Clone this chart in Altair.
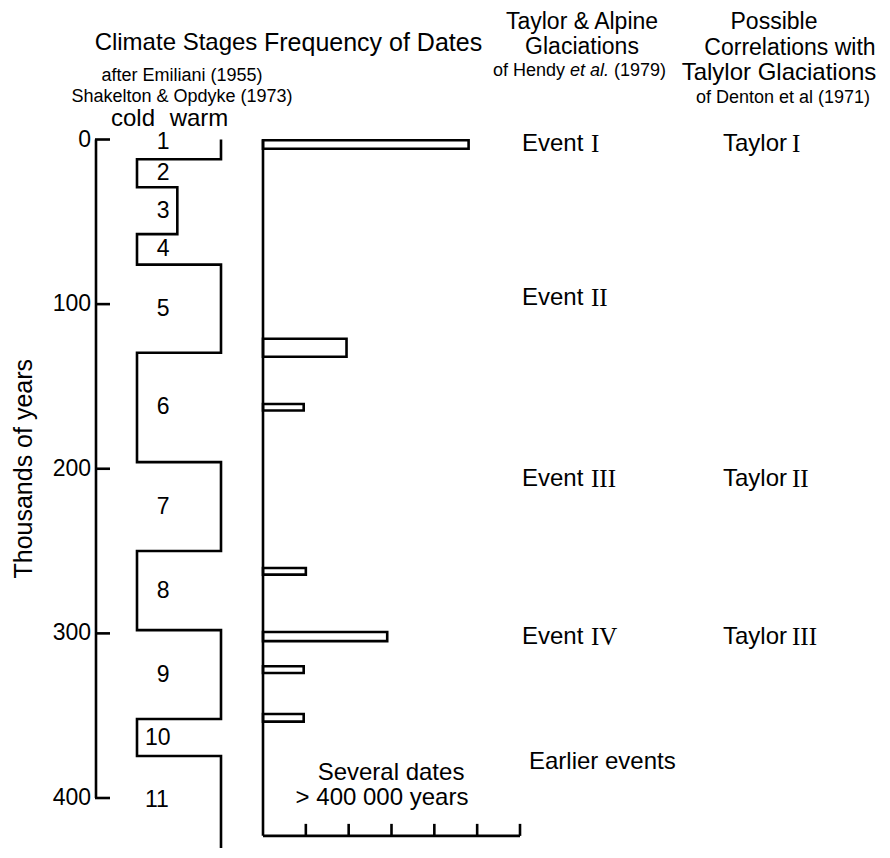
import altair as alt
import pandas as pd

# ---------------- data ----------------
stage_numbers = ["1", "2", "3", "4", "5", "6", "7", "8", "9", "10", "11"]
stage_bounds_kyr = [0, 12, 29, 57.5, 76, 129.5, 196, 250, 298, 352, 374.5, 436]
stage_levels = [1, 0, 0.48, 0, 1, 0, 1, 0, 1, 0, 1]  # 0 = cold, 1 = warm

bar_start_kyr = [0.5, 121, 160.7, 260.3, 299.2, 320, 349]
bar_end_kyr = [5.6, 132, 164.6, 264.3, 304.7, 324.1, 353.6]
bar_counts = [4.8, 1.95, 0.95, 1.0, 2.9, 0.95, 0.95]

age_ticks = [0, 100, 200, 300, 400]
count_ticks = [1, 2, 3, 4, 5, 6]
count_axis_kyr = 423

event_numerals = ["I", "II", "III", "IV"]
event_kyr = [3, 96, 206, 302]
taylor_numerals = ["I", "II", "III"]
taylor_kyr = [3, 206, 302]
earlier_kyr = 378
several_lines = ["Several dates", "> 400 000 years"]
several_kyr = [385, 400]

# ---------------- layout ----------------
SANS = "Liberation Sans"
SERIF = "Liberation Serif"
BIG = 24
SMALL = 18
LW = 2.6


def px(v):
    return v - 8


PX_PER_KYR = (798 - 139.5) / 400
y_scale = alt.Scale(domain=[0, 400], range=[px(139.5), px(798)], zero=False, nice=False)
lvl_scale = alt.Scale(domain=[0, 1], range=[px(137), px(221)], zero=False, nice=False)
cnt_scale = alt.Scale(domain=[0, 6], range=[px(263), px(520)], zero=False, nice=False)


def Y(field):
    return alt.Y(field, type="quantitative", scale=y_scale, axis=None)


layers = []

# left age axis
axis_df = pd.DataFrame({"a": [min(age_ticks)], "b": [max(age_ticks)]})
layers.append(alt.Chart(axis_df).mark_rule(color="black", strokeWidth=LW).encode(
    x=alt.value(px(96)), y=Y("a"), y2="b"))
tick_df = pd.DataFrame({"t": age_ticks})
layers.append(alt.Chart(tick_df).mark_rule(color="black", strokeWidth=LW).encode(
    x=alt.value(px(95)), x2=alt.value(px(110)), y=Y("t")))
layers.append(alt.Chart(tick_df).mark_text(font=SANS, fontSize=23, align="right", baseline="middle").encode(
    x=alt.value(px(91)), y=Y("t"), text="t:N"))
title_df = pd.DataFrame({"t": ["Thousands of years"], "m": [(min(age_ticks) + max(age_ticks)) / 2]})
layers.append(alt.Chart(title_df).mark_text(font=SANS, fontSize=25, angle=270, align="center", baseline="middle").encode(
    x=alt.value(px(24)), y=Y("m"), text="t:N"))

# climate stage curve
rows = []
k = 0
for i, lvl in enumerate(stage_levels):
    for b in (stage_bounds_kyr[i], stage_bounds_kyr[i + 1]):
        rows.append({"o": k, "lvl": lvl, "kyr": b})
        k += 1
curve_df = pd.DataFrame(rows)
layers.append(alt.Chart(curve_df).mark_line(color="black", strokeWidth=LW, strokeJoin="miter").encode(
    x=alt.X("lvl:Q", scale=lvl_scale, axis=None), y=Y("kyr"), order="o:Q"))

lab_df = pd.DataFrame({
    "s": stage_numbers,
    "mid": [(stage_bounds_kyr[i] + stage_bounds_kyr[i + 1]) / 2 for i in range(len(stage_numbers))],
    "pos": [0.31] * len(stage_numbers),
    "pos2": [0.095] * len(stage_numbers),
})
one = lab_df[lab_df.s == "1"]
last = lab_df[lab_df.s == "11"]
single = lab_df[(lab_df.s.str.len() == 1) & (lab_df.s != "1")]
ten = lab_df[lab_df.s == "10"]
layers.append(alt.Chart(one).mark_text(font=SANS, fontSize=23, align="center", baseline="middle", dy=-7).encode(
    x=alt.X("pos:Q", scale=lvl_scale, axis=None), y=Y("mid"), text="s:N"))
layers.append(alt.Chart(single).mark_text(font=SANS, fontSize=23, align="center", baseline="middle").encode(
    x=alt.X("pos:Q", scale=lvl_scale, axis=None), y=Y("mid"), text="s:N"))
layers.append(alt.Chart(ten).mark_text(font=SANS, fontSize=23, align="left", baseline="middle").encode(
    x=alt.X("pos2:Q", scale=lvl_scale, axis=None), y=Y("mid"), text="s:N"))
layers.append(alt.Chart(last).mark_text(font=SANS, fontSize=23, align="left", baseline="middle", dy=-7).encode(
    x=alt.X("pos2:Q", scale=lvl_scale, axis=None), y=Y("mid"), text="s:N"))

# frequency histogram
bars_df = pd.DataFrame({"zero": 0, "c": bar_counts, "s": bar_start_kyr, "e": bar_end_kyr})
layers.append(alt.Chart(bars_df).mark_rect(fill="white", stroke="black", strokeWidth=LW).encode(
    x=alt.X("zero:Q", scale=cnt_scale, axis=None), x2="c", y=Y("s"), y2="e"))
fax_df = pd.DataFrame({"zero": [0], "top": [0], "base": [count_axis_kyr], "mx": [max(count_ticks)]})
layers.append(alt.Chart(fax_df).mark_rule(color="black", strokeWidth=LW).encode(
    x=alt.X("zero:Q", scale=cnt_scale, axis=None), y=Y("top"), y2="base"))
layers.append(alt.Chart(fax_df).mark_rule(color="black", strokeWidth=LW).encode(
    x=alt.X("zero:Q", scale=cnt_scale, axis=None), x2="mx", y=Y("base")))
ftick_df = pd.DataFrame({"c": count_ticks, "base": count_axis_kyr,
                         "up": count_axis_kyr - 12 / PX_PER_KYR})
layers.append(alt.Chart(ftick_df).mark_rule(color="black", strokeWidth=LW).encode(
    x=alt.X("c:Q", scale=cnt_scale, axis=None), y=Y("base"), y2="up"))
sev_x = [391, 382]
for line, kk, xx in zip(several_lines, several_kyr, sev_x):
    layers.append(alt.Chart(pd.DataFrame({"t": [line], "k": [kk]})).mark_text(
        font=SANS, fontSize=BIG, align="center", baseline="middle").encode(
        x=alt.value(px(xx)), y=Y("k"), text="t:N"))

# events / Taylor glaciations
ev_df = pd.DataFrame({"w": "Event", "n": event_numerals, "k": event_kyr})
layers.append(alt.Chart(ev_df).mark_text(font=SANS, fontSize=BIG, align="left", baseline="middle").encode(
    x=alt.value(px(522)), y=Y("k"), text="w:N"))
layers.append(alt.Chart(ev_df).mark_text(font=SERIF, fontSize=BIG + 1, align="left", baseline="middle").encode(
    x=alt.value(px(591)), y=Y("k"), text="n:N"))
ty_df = pd.DataFrame({"w": "Taylor", "n": taylor_numerals, "k": taylor_kyr})
layers.append(alt.Chart(ty_df).mark_text(font=SANS, fontSize=BIG, align="left", baseline="middle").encode(
    x=alt.value(px(723)), y=Y("k"), text="w:N"))
layers.append(alt.Chart(ty_df).mark_text(font=SERIF, fontSize=BIG + 1, align="left", baseline="middle").encode(
    x=alt.value(px(792)), y=Y("k"), text="n:N"))
layers.append(alt.Chart(pd.DataFrame({"t": ["Earlier events"], "k": [earlier_kyr]})).mark_text(
    font=SANS, fontSize=BIG, align="left", baseline="middle").encode(
    x=alt.value(px(529)), y=Y("k"), text="t:N"))

# headers
headers = [
    ("Climate Stages", 176, 43, BIG, "center", "normal"),
    ("Frequency of Dates", 264, 43, 25, "left", "normal"),
    ("after Emiliani (1955)", 182, 76, SMALL, "center", "normal"),
    ("Shakelton & Opdyke (1973)", 182, 97, SMALL, "center", "normal"),
    ("cold", 133, 119, BIG, "center", "normal"),
    ("warm", 199, 119, BIG, "center", "normal"),
    ("Taylor & Alpine", 582, 22, 23, "center", "normal"),
    ("Glaciations", 582, 47, 23, "center", "normal"),
    ("Possible", 774, 22, 23, "center", "normal"),
    ("Correlations with", 790, 48, 23, "center", "normal"),
    ("Talylor Glaciations", 779, 73, BIG, "center", "normal"),
    ("of Denton et al (1971)", 783, 98, SMALL, "center", "normal"),
    # mixed-style line: of Hendy et al. (1979)
    ("of Hendy", 565, 71, SMALL, "right", "normal"),
    ("et al.", 570, 71, SMALL, "left", "italic"),
    ("(1979)", 614, 71, SMALL, "left", "normal"),
]
for txt, xx, yy, fs, al, st in headers:
    layers.append(alt.Chart(pd.DataFrame({"t": [txt]})).mark_text(
        font=SANS, fontSize=fs, align=al, baseline="middle", fontStyle=st).encode(
        x=alt.value(px(xx)), y=alt.value(px(yy)), text="t:N"))

chart = alt.layer(*layers).resolve_scale(x="independent").properties(
    width=872, height=840, padding=0,
    autosize=alt.AutoSizeParams(type="none"),
    background="white",
).configure_view(stroke=None)

chart.save("out.html", embed_options={"renderer": "svg", "actions": False})
